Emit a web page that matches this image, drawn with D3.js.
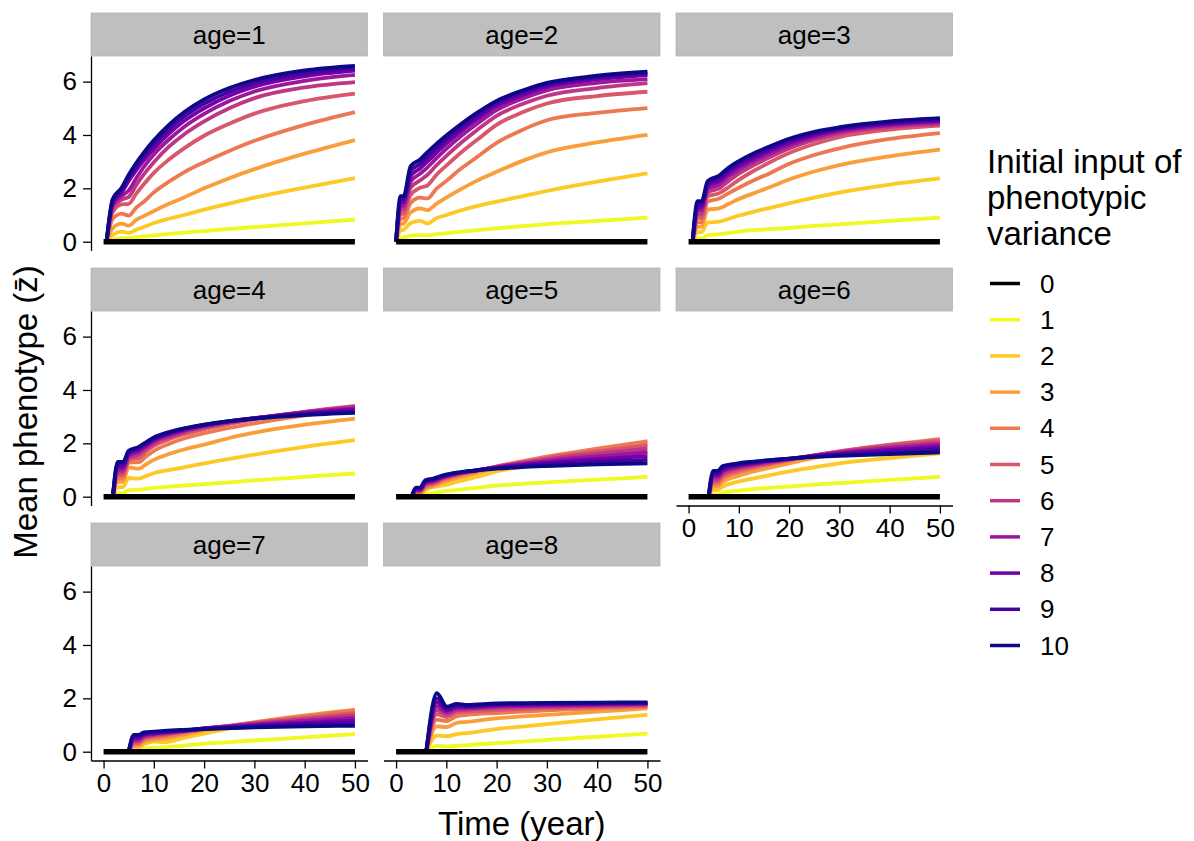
<!DOCTYPE html>
<html><head><meta charset="utf-8">
<script src="https://cdn.jsdelivr.net/npm/d3@7"></script>
<style>body{margin:0;background:#fff} svg{display:block} text{font-family:"Liberation Sans",Arial,sans-serif;fill:#000}</style>
</head><body><svg id="chart" width="1194" height="841"></svg>
<script>
const ages = [1,2,3,4,5,6,7,8];
const variances = [0,1,2,3,4,5,6,7,8,9,10];
const xTicks = [0,10,20,30,40,50];
const yTicks = [0,2,4,6];
const palette = ["#000000","#F0F921","#FDC926","#FA9E3B","#ED7953","#D8576B","#BD3786","#9C179E","#7301A8","#47039F","#0D0887"];
const zeroTime = [0, 50];
const zeroValue = [0, 0];

// age = 1 : rows are variance 1..10
const time_age1 = [0.6, 1.8, 3.6, 5, 6.5, 8, 10, 13, 16, 20, 25, 30, 40, 50];
const z_age1 = [
 [0, 0.08, 0.13, 0.14, 0.17, 0.20, 0.24, 0.29, 0.34, 0.40, 0.48, 0.55, 0.69, 0.83],
 [0, 0.25, 0.38, 0.33, 0.45, 0.55, 0.70, 0.86, 1.00, 1.20, 1.43, 1.65, 2.03, 2.38],
 [0, 0.50, 0.68, 0.60, 0.82, 0.96, 1.15, 1.42, 1.66, 2.00, 2.38, 2.72, 3.30, 3.81],
 [0, 0.85, 1.05, 0.98, 1.28, 1.50, 1.85, 2.25, 2.60, 2.98, 3.40, 3.78, 4.38, 4.86],
 [0, 1.10, 1.40, 1.42, 1.80, 2.15, 2.58, 3.08, 3.50, 3.97, 4.42, 4.80, 5.27, 5.55],
 [0, 1.25, 1.58, 1.68, 2.12, 2.52, 2.98, 3.56, 4.02, 4.51, 5.00, 5.38, 5.78, 5.98],
 [0, 1.36, 1.72, 1.92, 2.38, 2.80, 3.27, 3.83, 4.30, 4.79, 5.27, 5.63, 6.03, 6.25],
 [0, 1.45, 1.84, 2.28, 2.68, 3.05, 3.48, 4.05, 4.52, 5.00, 5.47, 5.81, 6.20, 6.41],
 [0, 1.52, 1.93, 2.40, 2.82, 3.20, 3.64, 4.22, 4.69, 5.17, 5.62, 5.94, 6.31, 6.50],
 [0, 1.59, 2.02, 2.51, 2.95, 3.34, 3.80, 4.38, 4.85, 5.33, 5.76, 6.06, 6.42, 6.59]
];

const time_age2 = [0, 0.9, 1.5, 2.9, 4.8, 6.2, 8, 10, 13, 16, 20, 25, 30, 40, 50];
const z_age2 = [
 [0, 0.15, 0.16, 0.23, 0.25, 0.24, 0.28, 0.32, 0.38, 0.43, 0.50, 0.58, 0.66, 0.78, 0.90],
 [0, 0.42, 0.45, 0.70, 0.78, 0.68, 0.88, 1.00, 1.18, 1.33, 1.50, 1.70, 1.90, 2.25, 2.56],
 [0, 0.65, 0.68, 1.10, 1.25, 1.18, 1.42, 1.65, 1.98, 2.28, 2.62, 3.02, 3.35, 3.72, 4.00],
 [0, 0.85, 0.88, 1.45, 1.65, 1.62, 1.98, 2.28, 2.75, 3.16, 3.70, 4.18, 4.55, 4.83, 5.01],
 [0, 1.02, 1.06, 1.75, 2.02, 2.10, 2.50, 2.85, 3.35, 3.80, 4.38, 4.84, 5.18, 5.46, 5.62],
 [0, 1.18, 1.22, 2.02, 2.30, 2.50, 2.86, 3.22, 3.72, 4.17, 4.72, 5.15, 5.47, 5.76, 5.94],
 [0, 1.32, 1.35, 2.25, 2.55, 2.78, 3.12, 3.48, 3.97, 4.40, 4.93, 5.35, 5.67, 5.95, 6.09],
 [0, 1.45, 1.48, 2.45, 2.75, 3.00, 3.33, 3.68, 4.15, 4.57, 5.08, 5.48, 5.80, 6.08, 6.24],
 [0, 1.58, 1.60, 2.65, 2.92, 3.18, 3.50, 3.84, 4.30, 4.70, 5.20, 5.58, 5.88, 6.16, 6.31],
 [0, 1.71, 1.71, 2.83, 3.08, 3.35, 3.66, 3.98, 4.42, 4.82, 5.28, 5.66, 5.95, 6.22, 6.37]
];

const time_age3 = [0.8, 1.8, 2.6, 3.8, 6.1, 8, 10, 13, 16, 20, 25, 30, 40, 50];
const z_age3 = [
 [0, 0.12, 0.12, 0.25, 0.28, 0.33, 0.38, 0.43, 0.47, 0.52, 0.59, 0.65, 0.78, 0.90],
 [0, 0.35, 0.36, 0.72, 0.75, 0.86, 0.98, 1.13, 1.26, 1.44, 1.65, 1.84, 2.14, 2.37],
 [0, 0.55, 0.57, 1.20, 1.25, 1.42, 1.60, 1.82, 2.03, 2.33, 2.63, 2.87, 3.20, 3.45],
 [0, 0.72, 0.74, 1.50, 1.62, 1.82, 2.02, 2.30, 2.55, 2.92, 3.25, 3.50, 3.85, 4.07],
 [0, 0.88, 0.90, 1.70, 1.82, 2.05, 2.32, 2.66, 2.96, 3.32, 3.66, 3.92, 4.20, 4.35],
 [0, 1.02, 1.05, 1.85, 2.00, 2.28, 2.55, 2.87, 3.15, 3.49, 3.81, 4.05, 4.30, 4.42],
 [0, 1.15, 1.18, 1.98, 2.15, 2.45, 2.70, 3.01, 3.28, 3.60, 3.91, 4.13, 4.36, 4.48],
 [0, 1.28, 1.30, 2.08, 2.28, 2.58, 2.83, 3.13, 3.39, 3.70, 3.99, 4.19, 4.41, 4.53],
 [0, 1.40, 1.42, 2.18, 2.38, 2.68, 2.93, 3.23, 3.48, 3.79, 4.06, 4.24, 4.46, 4.58],
 [0, 1.52, 1.52, 2.27, 2.48, 2.78, 3.02, 3.32, 3.56, 3.86, 4.12, 4.29, 4.51, 4.63]
];

const time_age4 = [1.85, 2.8, 3.85, 5.0, 7, 8.5, 10, 13, 16, 20, 25, 30, 40, 50];
const z_age4 = [
 [0, 0.12, 0.12, 0.25, 0.26, 0.30, 0.33, 0.38, 0.42, 0.47, 0.54, 0.61, 0.74, 0.87],
 [0, 0.35, 0.36, 0.70, 0.68, 0.78, 0.88, 1.00, 1.10, 1.25, 1.42, 1.58, 1.87, 2.12],
 [0, 0.55, 0.56, 1.10, 1.05, 1.22, 1.38, 1.60, 1.77, 1.95, 2.20, 2.40, 2.70, 2.93],
 [0, 0.68, 0.70, 1.28, 1.30, 1.52, 1.72, 1.98, 2.18, 2.38, 2.58, 2.75, 3.05, 3.28],
 [0, 0.80, 0.82, 1.38, 1.45, 1.70, 1.90, 2.15, 2.34, 2.53, 2.73, 2.90, 3.18, 3.40],
 [0, 0.90, 0.92, 1.45, 1.58, 1.80, 2.00, 2.24, 2.42, 2.60, 2.78, 2.93, 3.18, 3.37],
 [0, 1.00, 1.02, 1.53, 1.68, 1.88, 2.07, 2.30, 2.47, 2.64, 2.80, 2.94, 3.16, 3.32],
 [0, 1.10, 1.12, 1.60, 1.76, 1.95, 2.13, 2.35, 2.51, 2.67, 2.82, 2.94, 3.13, 3.26],
 [0, 1.20, 1.21, 1.66, 1.82, 2.00, 2.18, 2.39, 2.54, 2.69, 2.83, 2.94, 3.10, 3.20],
 [0, 1.30, 1.30, 1.72, 1.87, 2.05, 2.22, 2.42, 2.56, 2.70, 2.83, 2.93, 3.06, 3.14]
];

const time_age5 = [3.1, 4.0, 4.8, 5.8, 7.4, 9.4, 12, 16, 20, 25, 30, 40, 50];
const z_age5 = [
 [0, 0.03, 0.03, 0.10, 0.14, 0.20, 0.25, 0.33, 0.42, 0.48, 0.54, 0.64, 0.74],
 [0, 0.08, 0.08, 0.25, 0.36, 0.42, 0.55, 0.74, 0.95, 1.12, 1.28, 1.48, 1.65],
 [0, 0.12, 0.12, 0.30, 0.40, 0.54, 0.69, 0.88, 1.08, 1.28, 1.47, 1.75, 2.00],
 [0, 0.16, 0.16, 0.37, 0.45, 0.62, 0.77, 0.94, 1.13, 1.32, 1.50, 1.80, 2.08],
 [0, 0.19, 0.19, 0.42, 0.50, 0.67, 0.81, 0.97, 1.13, 1.29, 1.45, 1.70, 1.93],
 [0, 0.22, 0.22, 0.46, 0.54, 0.70, 0.84, 0.98, 1.12, 1.26, 1.40, 1.61, 1.80],
 [0, 0.25, 0.25, 0.50, 0.58, 0.73, 0.86, 0.99, 1.11, 1.23, 1.34, 1.51, 1.66],
 [0, 0.28, 0.28, 0.54, 0.62, 0.76, 0.88, 0.99, 1.09, 1.19, 1.28, 1.41, 1.52],
 [0, 0.31, 0.31, 0.58, 0.65, 0.78, 0.89, 0.99, 1.07, 1.15, 1.22, 1.31, 1.38],
 [0, 0.34, 0.34, 0.62, 0.68, 0.80, 0.90, 0.99, 1.05, 1.11, 1.15, 1.21, 1.25]
];

const time_age6 = [4.0, 4.9, 5.8, 6.8, 9.5, 12, 16, 20, 25, 30, 40, 50];
const z_age6 = [
 [0, 0.09, 0.09, 0.15, 0.22, 0.27, 0.33, 0.38, 0.45, 0.51, 0.63, 0.74],
 [0, 0.25, 0.25, 0.38, 0.55, 0.65, 0.80, 0.95, 1.10, 1.25, 1.45, 1.62],
 [0, 0.38, 0.38, 0.55, 0.76, 0.90, 1.08, 1.25, 1.45, 1.62, 1.88, 2.08],
 [0, 0.47, 0.48, 0.68, 0.89, 1.02, 1.19, 1.35, 1.54, 1.70, 1.95, 2.16],
 [0, 0.56, 0.57, 0.78, 0.97, 1.09, 1.24, 1.38, 1.55, 1.70, 1.93, 2.10],
 [0, 0.64, 0.65, 0.86, 1.04, 1.14, 1.28, 1.40, 1.55, 1.68, 1.88, 2.03],
 [0, 0.72, 0.73, 0.94, 1.10, 1.19, 1.31, 1.41, 1.54, 1.65, 1.82, 1.95],
 [0, 0.80, 0.81, 1.01, 1.15, 1.23, 1.34, 1.42, 1.52, 1.61, 1.75, 1.87],
 [0, 0.88, 0.89, 1.08, 1.20, 1.27, 1.36, 1.43, 1.51, 1.57, 1.68, 1.78],
 [0, 0.97, 0.97, 1.15, 1.24, 1.30, 1.37, 1.43, 1.49, 1.53, 1.60, 1.66]
];

const time_age7 = [5.0, 6.0, 7.0, 8.0, 10, 12, 16, 20, 25, 30, 40, 50];
const z_age7 = [
 [0, 0.05, 0.05, 0.10, 0.15, 0.17, 0.23, 0.30, 0.36, 0.42, 0.54, 0.66],
 [0, 0.15, 0.15, 0.27, 0.38, 0.36, 0.52, 0.68, 0.86, 1.02, 1.30, 1.52],
 [0, 0.21, 0.22, 0.36, 0.45, 0.48, 0.64, 0.80, 0.95, 1.10, 1.36, 1.58],
 [0, 0.27, 0.28, 0.44, 0.52, 0.57, 0.70, 0.84, 0.97, 1.10, 1.33, 1.54],
 [0, 0.33, 0.34, 0.50, 0.58, 0.63, 0.74, 0.86, 0.97, 1.08, 1.27, 1.45],
 [0, 0.39, 0.40, 0.55, 0.62, 0.67, 0.76, 0.87, 0.96, 1.05, 1.21, 1.36],
 [0, 0.45, 0.46, 0.60, 0.66, 0.70, 0.78, 0.87, 0.95, 1.02, 1.15, 1.27],
 [0, 0.51, 0.52, 0.64, 0.69, 0.73, 0.79, 0.87, 0.93, 0.99, 1.08, 1.17],
 [0, 0.57, 0.58, 0.68, 0.72, 0.75, 0.80, 0.86, 0.90, 0.95, 1.02, 1.07],
 [0, 0.63, 0.63, 0.72, 0.75, 0.78, 0.82, 0.85, 0.88, 0.91, 0.95, 0.97]
];

const time_age8 = [6.0, 8.1, 10.1, 12.1, 14.1, 20, 25, 30, 40, 50];
const z_age8 = [
 [0, 0.22, 0.20, 0.22, 0.25, 0.32, 0.38, 0.44, 0.56, 0.68],
 [0, 0.60, 0.58, 0.66, 0.70, 0.85, 0.94, 1.03, 1.21, 1.38],
 [0, 0.95, 0.92, 1.08, 1.12, 1.25, 1.32, 1.38, 1.50, 1.62],
 [0, 1.20, 1.15, 1.33, 1.38, 1.45, 1.50, 1.55, 1.62, 1.68],
 [0, 1.40, 1.30, 1.47, 1.50, 1.56, 1.60, 1.63, 1.68, 1.72],
 [0, 1.55, 1.40, 1.55, 1.57, 1.64, 1.67, 1.69, 1.73, 1.76],
 [0, 1.70, 1.48, 1.62, 1.63, 1.70, 1.72, 1.73, 1.76, 1.79],
 [0, 1.85, 1.55, 1.68, 1.68, 1.74, 1.76, 1.77, 1.79, 1.81],
 [0, 2.00, 1.62, 1.74, 1.72, 1.78, 1.79, 1.80, 1.82, 1.83],
 [0, 2.19, 1.69, 1.79, 1.75, 1.81, 1.82, 1.83, 1.84, 1.85]
];

const panelTimes = [time_age1, time_age2, time_age3, time_age4, time_age5, time_age6, time_age7, time_age8];
const panelValues = [z_age1, z_age2, z_age3, z_age4, z_age5, z_age6, z_age7, z_age8];

const svg = d3.select("#chart");
const colLeft = [91, 383.5, 676];
const rowTop = [56, 311, 566];
const pw = 276.5, ph = 194.5, stripH = 43;
const smallFont = 26, titleFont = 33;

ages.forEach((age, i) => {
  const col = i % 3, row = Math.floor(i / 3);
  const left = colLeft[col], top = rowTop[row];
  const x = d3.scaleLinear().domain([-2.5, 52.5]).range([left, left + pw]);
  const y = d3.scaleLinear().domain([-0.33, 6.96]).range([top + ph, top]);
  const g = svg.append("g");

  g.append("rect").attr("x", left).attr("y", top - stripH).attr("width", pw).attr("height", stripH)
    .attr("fill", "#bfbfbf").attr("stroke", "#b3b3b3").attr("stroke-width", 0.8);
  g.append("text").attr("x", left + pw / 2).attr("y", top - stripH / 2)
    .attr("text-anchor", "middle").attr("dominant-baseline", "central")
    .style("font-size", smallFont + "px").text("age=" + age);

  const line = d3.line().x(d => x(d.t)).y(d => y(d.v)).curve(d3.curveMonotoneX);
  const times = panelTimes[i], vals = panelValues[i];
  variances.slice(1).forEach((vv, k) => {
    const data = times.map((t, j) => ({t: t, v: vals[k][j]}));
    g.append("path").datum(data).attr("d", line).attr("fill", "none")
      .attr("stroke", palette[vv]).attr("stroke-width", 3.8).attr("stroke-linejoin", "round");
  });
  const zeroData = zeroTime.map((t, j) => ({t: t, v: zeroValue[j]}));
  g.append("path").datum(zeroData).attr("d", d3.line().x(d => x(d.t)).y(d => y(d.v)))
    .attr("fill", "none").attr("stroke", palette[0]).attr("stroke-width", 5.5);

  if (col === 0) {
    const ax = g.append("g").attr("transform", `translate(${left},0)`)
      .call(d3.axisLeft(y).tickValues(yTicks).tickSize(8).tickSizeOuter(0).tickPadding(6));
    ax.select(".domain").attr("stroke", "#000").attr("stroke-width", 1.3);
    ax.selectAll(".tick line").attr("stroke", "#000").attr("stroke-width", 1.3);
    ax.selectAll(".tick text").style("font-size", smallFont + "px").attr("fill", "#000")
      .style("font-family", '"Liberation Sans",Arial,sans-serif');
  }
  const hasXAxis = (row === 2) || (row === 1 && col === 2);
  if (hasXAxis) {
    const ax = g.append("g").attr("transform", `translate(0,${top + ph})`)
      .call(d3.axisBottom(x).tickValues(xTicks).tickSize(8).tickSizeOuter(0).tickPadding(5));
    ax.select(".domain").attr("stroke", "#000").attr("stroke-width", 1.3);
    ax.selectAll(".tick line").attr("stroke", "#000").attr("stroke-width", 1.3);
    ax.selectAll(".tick text").style("font-size", smallFont + "px").attr("fill", "#000")
      .style("font-family", '"Liberation Sans",Arial,sans-serif');
  }
});

// axis titles
svg.append("text").attr("x", (colLeft[0] + colLeft[2] + pw) / 2).attr("y", 835)
  .attr("text-anchor", "middle").style("font-size", titleFont + "px").text("Time (year)");
svg.append("text").attr("transform", `translate(37,412) rotate(-90)`)
  .attr("text-anchor", "middle").style("font-size", titleFont + "px").text("Mean phenotype (z\u0304)");

// legend
const legendTitle = ["Initial input of", "phenotypic", "variance"];
const lg = svg.append("g");
legendTitle.forEach((s, i) => {
  lg.append("text").attr("x", 987).attr("y", 173 + i * 36).style("font-size", titleFont + "px").text(s);
});
variances.forEach((vv, i) => {
  const cy = 283.5 + i * 36.2;
  lg.append("line").attr("x1", 990).attr("x2", 1020).attr("y1", cy).attr("y2", cy)
    .attr("stroke", palette[vv]).attr("stroke-width", 3.5);
  lg.append("text").attr("x", 1040).attr("y", cy).attr("dominant-baseline", "central")
    .style("font-size", smallFont + "px").text(vv);
});
</script></body></html>
